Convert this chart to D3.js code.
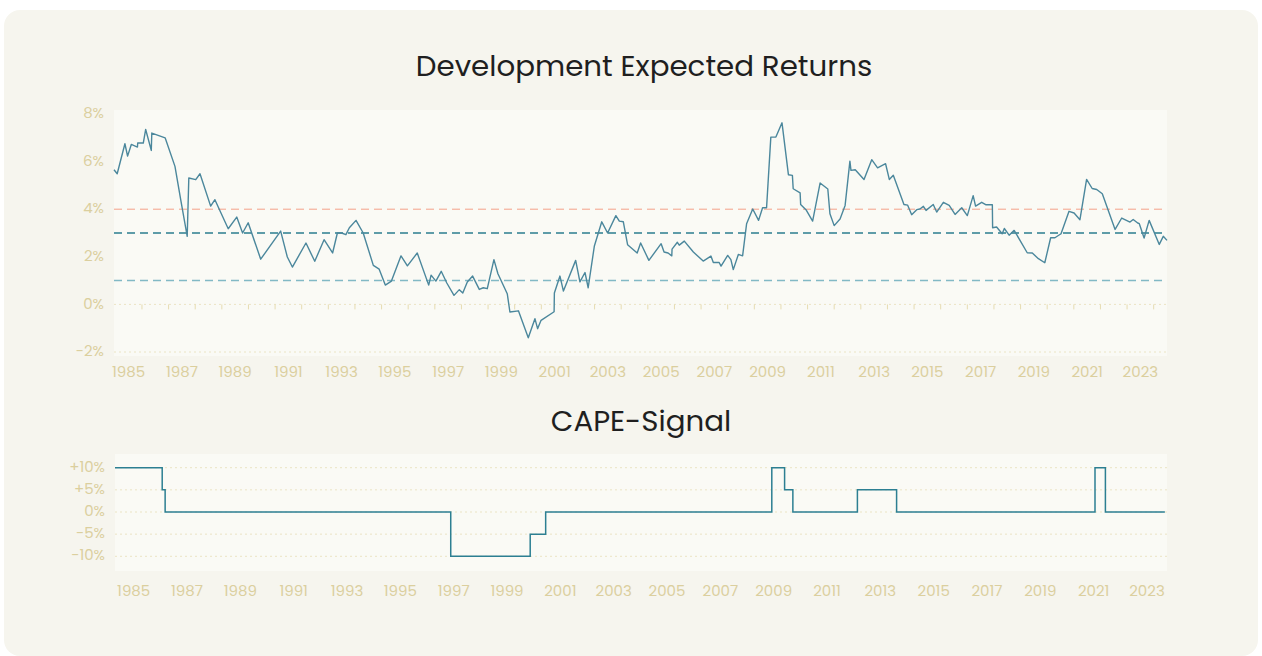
<!DOCTYPE html>
<html>
<head>
<meta charset="utf-8">
<script src="https://cdn.jsdelivr.net/npm/d3@7"></script>
<style>
  body { margin: 0; background: #ffffff; }
  svg { display: block; font-family: "Poppins", "Inter", "Open Sans", sans-serif; }
</style>
</head>
<body>
<div id="chart"></div>
<script>
// expected returns, decimal year / percent
const retDates = [
  1984.45, 1984.57, 1984.86, 1984.96, 1985.10, 1985.33, 1985.34, 1985.55, 1985.64, 1985.85,
  1985.87, 1986.37, 1986.74, 1986.96, 1987.20, 1987.26, 1987.52, 1987.68, 1988.08, 1988.24,
  1988.74, 1989.06, 1989.28, 1989.49, 1989.96, 1990.71, 1990.96, 1991.15, 1991.66, 1991.99,
  1992.34, 1992.66, 1992.84, 1993.00, 1993.16, 1993.29, 1993.54, 1993.81, 1994.19, 1994.41,
  1994.64, 1994.87, 1995.23, 1995.47, 1995.84, 1996.27, 1996.36, 1996.54, 1996.74, 1996.95,
  1997.22, 1997.42, 1997.55, 1997.72, 1997.92, 1998.17, 1998.32, 1998.47, 1998.72, 1998.87,
  1999.22, 1999.32, 1999.64, 2000.01, 2000.26, 2000.36, 2000.49, 2000.98, 2000.99, 2001.20,
  2001.33, 2001.79, 2001.95, 2002.14, 2002.26, 2002.49, 2002.77, 2002.99, 2003.30, 2003.43,
  2003.58, 2003.74, 2004.10, 2004.23, 2004.54, 2005.00, 2005.11, 2005.26, 2005.40, 2005.41,
  2005.61, 2005.68, 2005.87, 2006.21, 2006.58, 2006.87, 2006.96, 2007.18, 2007.25, 2007.50,
  2007.62, 2007.71, 2007.90, 2008.06, 2008.21, 2008.44, 2008.66, 2008.81, 2008.96, 2009.12,
  2009.31, 2009.54, 2009.78, 2009.93, 2009.96, 2010.22, 2010.24, 2010.44, 2010.69, 2010.97,
  2011.26, 2011.34, 2011.50, 2011.72, 2011.91, 2012.09, 2012.13, 2012.29, 2012.62, 2012.91,
  2013.13, 2013.43, 2013.57, 2013.72, 2014.12, 2014.26, 2014.41, 2014.60, 2014.72, 2014.85,
  2014.95, 2015.22, 2015.35, 2015.60, 2015.82, 2016.04, 2016.29, 2016.50, 2016.72, 2016.81,
  2017.04, 2017.19, 2017.44, 2017.45, 2017.60, 2017.81, 2017.89, 2018.07, 2018.26, 2018.75,
  2018.94, 2019.17, 2019.41, 2019.63, 2019.79, 2020.02, 2020.32, 2020.51, 2020.73, 2020.98,
  2021.19, 2021.36, 2021.57, 2022.05, 2022.30, 2022.61, 2022.73, 2022.90, 2022.96, 2023.14,
  2023.33, 2023.71, 2023.86, 2024.00
];
const retValues = [
  5.66, 5.49, 6.75, 6.23, 6.72, 6.61, 6.78, 6.78, 7.35, 6.47,
  7.20, 7.00, 5.80, 4.37, 2.86, 5.31, 5.24, 5.49, 4.13, 4.40,
  3.18, 3.67, 3.00, 3.43, 1.90, 3.08, 1.99, 1.57, 2.58, 1.81,
  2.72, 2.16, 3.00, 3.00, 2.93, 3.22, 3.53, 3.00, 1.64, 1.48,
  0.81, 0.98, 2.04, 1.62, 2.16, 0.81, 1.23, 0.98, 1.39, 0.90,
  0.38, 0.62, 0.48, 0.94, 1.19, 0.63, 0.70, 0.66, 1.88, 1.29,
  0.45, -0.32, -0.27, -1.40, -0.60, -1.02, -0.67, -0.31, 0.48, 1.19,
  0.56, 1.85, 0.95, 1.34, 0.70, 2.44, 3.47, 3.00, 3.73, 3.50,
  3.47, 2.51, 2.16, 2.58, 1.85, 2.55, 2.20, 2.16, 2.04, 2.32,
  2.61, 2.49, 2.66, 2.20, 1.82, 2.03, 1.76, 1.76, 1.61, 2.06,
  1.88, 1.46, 2.10, 2.04, 3.39, 4.01, 3.53, 4.06, 4.06, 7.03,
  7.03, 7.63, 5.45, 5.42, 4.86, 4.69, 4.20, 3.98, 3.50, 5.10,
  4.85, 3.81, 3.31, 3.59, 4.16, 6.02, 5.63, 5.66, 5.25, 6.08,
  5.74, 5.91, 5.25, 5.43, 4.20, 4.17, 3.77, 3.98, 4.01, 4.12,
  3.95, 4.20, 3.88, 4.29, 4.16, 3.78, 4.06, 3.73, 4.57, 4.13,
  4.29, 4.19, 4.19, 3.22, 3.25, 2.97, 3.19, 2.91, 3.11, 2.17,
  2.16, 1.92, 1.75, 2.80, 2.80, 2.97, 3.91, 3.84, 3.56, 5.25,
  4.87, 4.83, 4.65, 3.15, 3.63, 3.46, 3.57, 3.42, 3.39, 2.79,
  3.53, 2.52, 2.86, 2.69
];
const refLevels = [4, 3, 1];

// CAPE signal, value holds from its date until the next one
const capeDates = [1984.30, 1986.07, 1986.18, 1996.89, 1999.87, 2000.45, 2008.93, 2009.41, 2009.72, 2012.14, 2013.61, 2021.05, 2021.44, 2023.67];
const capeValues = [10, 5, 0, -10, -5, 0, 10, 5, 0, 5, 0, 10, 0, 0];

const yearLabels = [1985, 1987, 1989, 1991, 1993, 1995, 1997, 1999, 2001, 2003, 2005, 2007, 2009, 2011, 2013, 2015, 2017, 2019, 2021, 2023];
const retTicks = [8, 6, 4, 2, 0, -2];
const capeTicks = [10, 5, 0, -5, -10];
const capeTickLabels = ["+10%", "+5%", "0%", "-5%", "-10%"];

const width = 1262, height = 656;
const labelColor = "#dbcf9e";
const gridColor = "#ebe4c4";
const refColors = ["#f4a089", "#2b7e8f", "#82b9c5"];
const refWidths = [1, 1.5, 1.5];

const svg = d3.select("#chart").append("svg")
    .attr("width", width)
    .attr("height", height);

svg.append("rect")
    .attr("x", 4).attr("y", 10)
    .attr("width", 1254).attr("height", 646)
    .attr("rx", 16)
    .attr("fill", "#f6f5ee");

// ---------- top chart ----------
const retX = d3.scaleLinear().domain([1984.45, 2024.0]).range([114, 1167]);
const retY = d3.scaleLinear().domain([-2, 8]).range([352, 114]);

svg.append("text")
    .attr("x", 644).attr("y", 68)
    .attr("text-anchor", "middle")
    .attr("dominant-baseline", "middle")
    .attr("font-size", 29.3)
    .attr("fill", "#1f1f1f")
    .text("Development Expected Returns");

svg.append("rect")
    .attr("x", retX.range()[0]).attr("y", 110)
    .attr("width", retX.range()[1] - retX.range()[0]).attr("height", 246)
    .attr("fill", "#fafaf5");

const retG = svg.append("g");

retG.selectAll(".grid")
    .data([0, -2])
    .enter().append("line")
    .attr("x1", retX.range()[0]).attr("x2", retX.range()[1])
    .attr("y1", d => retY(d)).attr("y2", d => retY(d))
    .attr("stroke", gridColor)
    .attr("stroke-dasharray", "2,3");

// small ticks hanging off the zero line
retG.selectAll(".tick")
    .data(d3.range(1985, 2024).map(y => y + 0.5))
    .enter().append("line")
    .attr("x1", d => retX(d)).attr("x2", d => retX(d))
    .attr("y1", retY(0)).attr("y2", retY(0) + 5)
    .attr("stroke", "#e6dcb2");

retG.selectAll(".ref")
    .data(refLevels)
    .enter().append("line")
    .attr("x1", retX.range()[0]).attr("x2", retX.range()[1])
    .attr("y1", d => retY(d)).attr("y2", d => retY(d))
    .attr("stroke", (d, i) => refColors[i])
    .attr("stroke-width", (d, i) => refWidths[i])
    .attr("stroke-dasharray", "8,5");

const retLine = d3.line()
    .x((d, i) => retX(retDates[i]))
    .y(d => retY(d));

retG.append("path")
    .datum(retValues)
    .attr("d", retLine)
    .attr("fill", "none")
    .attr("stroke", "#4b879c")
    .attr("stroke-width", 1.4)
    .attr("stroke-linejoin", "round");

retG.selectAll(".ylab")
    .data(retTicks)
    .enter().append("text")
    .attr("x", 104).attr("y", d => retY(d))
    .attr("text-anchor", "end")
    .attr("dominant-baseline", "middle")
    .attr("font-size", 15)
    .attr("fill", labelColor)
    .text(d => d + "%");

retG.selectAll(".xlab")
    .data(yearLabels)
    .enter().append("text")
    .attr("x", d => retX(d)).attr("y", 373)
    .attr("text-anchor", "middle")
    .attr("dominant-baseline", "middle")
    .attr("font-size", 15)
    .attr("fill", labelColor)
    .text(d => d);

// ---------- bottom chart ----------
const capeX = d3.scaleLinear().domain([1984.3, 2023.75]).range([115, 1167]);
const capeY = d3.scaleLinear().domain([-10, 10]).range([556.3, 467.7]);

svg.append("text")
    .attr("x", 641).attr("y", 423)
    .attr("text-anchor", "middle")
    .attr("dominant-baseline", "middle")
    .attr("font-size", 29.3)
    .attr("fill", "#1f1f1f")
    .text("CAPE-Signal");

svg.append("rect")
    .attr("x", capeX.range()[0]).attr("y", 454)
    .attr("width", capeX.range()[1] - capeX.range()[0]).attr("height", 117)
    .attr("fill", "#fafaf5");

const capeG = svg.append("g");

capeG.selectAll(".grid")
    .data(capeTicks)
    .enter().append("line")
    .attr("x1", capeX.range()[0]).attr("x2", capeX.range()[1])
    .attr("y1", d => capeY(d)).attr("y2", d => capeY(d))
    .attr("stroke", gridColor)
    .attr("stroke-dasharray", "2,3");

const capeLine = d3.line()
    .x((d, i) => capeX(capeDates[i]))
    .y(d => capeY(d))
    .curve(d3.curveStepAfter);

capeG.append("path")
    .datum(capeValues)
    .attr("d", capeLine)
    .attr("fill", "none")
    .attr("stroke", "#2c7f92")
    .attr("stroke-width", 1.5);

capeG.selectAll(".ylab")
    .data(capeTicks)
    .enter().append("text")
    .attr("x", 105).attr("y", d => capeY(d))
    .attr("text-anchor", "end")
    .attr("dominant-baseline", "middle")
    .attr("font-size", 15)
    .attr("fill", labelColor)
    .text((d, i) => capeTickLabels[i]);

capeG.selectAll(".xlab")
    .data(yearLabels)
    .enter().append("text")
    .attr("x", d => capeX(d)).attr("y", 592)
    .attr("text-anchor", "middle")
    .attr("dominant-baseline", "middle")
    .attr("font-size", 15)
    .attr("fill", labelColor)
    .text(d => d);
</script>
</body>
</html>
